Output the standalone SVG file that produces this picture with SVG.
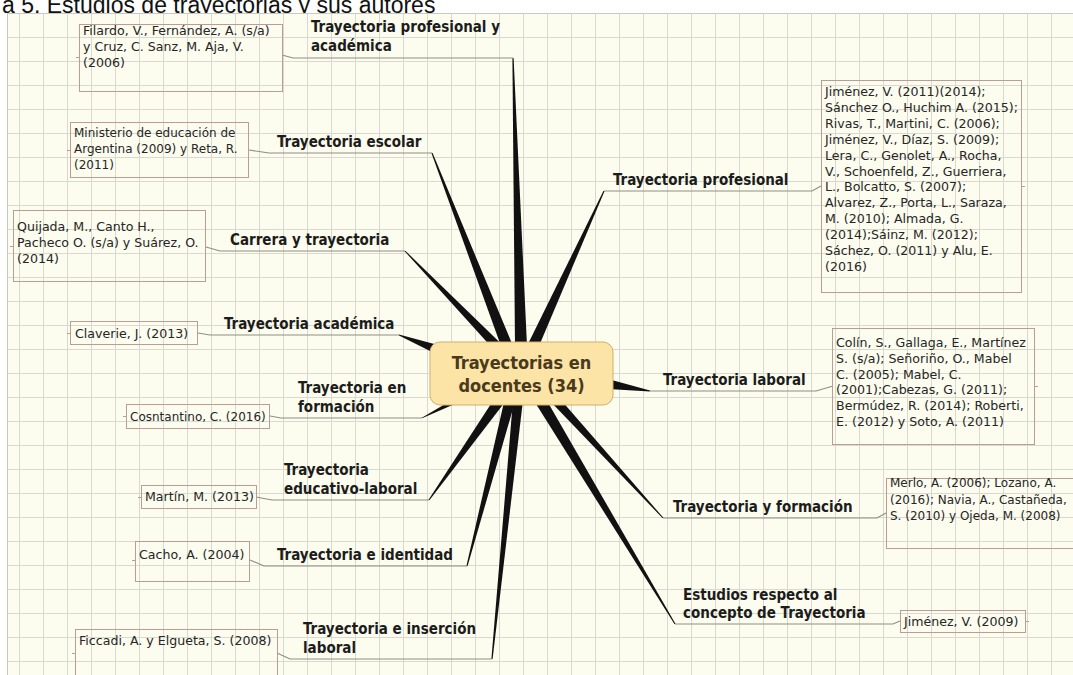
<svg xmlns="http://www.w3.org/2000/svg" width="1073" height="675" viewBox="0 0 1073 675">
  <defs>
    <pattern id="grid" patternUnits="userSpaceOnUse" x="19" y="13" width="24" height="24">
      <path d="M0,0.5 H24 M0.5,0 V24" fill="none" stroke="#d9d9cf" stroke-width="1"/>
    </pattern>
    <style>
      .title { font-family: "Liberation Sans", Arial, sans-serif; font-size: 23px; fill: #111; }
      .ref { font-family: "DejaVu Sans", Verdana, sans-serif; font-size: 12.6px; fill: #262626; }
      .ref.tight { font-size: 12px; }
      .lbl { font-family: "DejaVu Sans Condensed", "DejaVu Sans", sans-serif; font-stretch: condensed; font-weight: bold; font-size: 15px; fill: #1c1c1c; }
      .hub { font-family: "DejaVu Sans Condensed", "DejaVu Sans", sans-serif; font-stretch: condensed; font-weight: bold; font-size: 18px; fill: #4a3a1c; text-anchor: middle; }
      .box { fill: none; stroke: #bb9d96; stroke-width: 1; }
      .tick { stroke: #bb9d96; stroke-width: 1; }
      .ul { fill: none; stroke: #8e8e86; stroke-width: 1.2; }
      .spk { fill: #111; }
    </style>
  </defs>

  <!-- page caption -->
  <rect x="0" y="0" width="1073" height="675" fill="#ffffff"/>
  <text class="title" x="2" y="13">a 5. Estudios de trayectorias y sus autores</text>

  <!-- map canvas with grid -->
  <rect x="7.5" y="13.5" width="1070" height="670" fill="#fcfcef" stroke="#c9c9c0"/>
  <rect x="8" y="14" width="1065" height="661" fill="url(#grid)"/>

  <!-- spokes and branch connectors -->
  <g id="connectors">
    <polygon class="spk" points="512.4,58 513.6,58 527,346 515,346"/>
    <polygon class="spk" points="431.4,153 432.6,153 513,346 501,346"/>
    <polygon class="spk" points="404.4,251 405.6,251 503.5,346 490.5,346"/>
    <polygon class="spk" points="603.4,191 604.6,191 539,346 527,346"/>
    <polygon class="spk" points="399,334.4 399,335.6 438,355 438,345"/>
    <polygon class="spk" points="421.4,418 422.6,418 464,400 452,400"/>
    <polygon class="spk" points="428.4,500 429.6,500 506.5,400 493.5,400"/>
    <polygon class="spk" points="466.4,566 467.6,566 515.5,400 504.5,400"/>
    <polygon class="spk" points="491.4,659 492.6,659 523,400 513,400"/>
    <polygon class="spk" points="650,390.4 650,391.6 608,389 608,379"/>
    <polygon class="spk" points="662.4,518 663.6,518 561,400 549,400"/>
    <polygon class="spk" points="674.4,624 675.6,624 546.5,400 533.5,400"/>

    <path class="ul" d="M282,55 L293,58 L513,58"/>
    <path class="ul" d="M249,150 L269,153 L432,153"/>
    <path class="ul" d="M206,247 L220,251 L405,251"/>
    <path class="ul" d="M198,333 L210,335 L399,335"/>
    <path class="ul" d="M270,416 L281,418 L422,418"/>
    <path class="ul" d="M256,497 L272,500 L429,500"/>
    <path class="ul" d="M250,560 L264,566 L467,566"/>
    <path class="ul" d="M277,653 L290,659 L492,659"/>
    <path class="ul" d="M604,191 L812,191 L821,186"/>
    <path class="ul" d="M650,391 L816,391 L833,386"/>
    <path class="ul" d="M663,518 L877,518 L886,513"/>
    <path class="ul" d="M675,624 L893,624 L900,621"/>
  </g>

  <!-- central topic -->
  <g id="hub">
    <rect x="430" y="342" width="183" height="63" rx="10" fill="#fce3a6" stroke="#d2b06a" stroke-width="1"/>
    <text class="hub" x="521.5" y="369">Trayectorias en</text>
    <text class="hub" x="521.5" y="392">docentes (34)</text>
  </g>

  <!-- left branches -->
  <g id="t-prof-acad">
    <text class="lbl" x="311" y="32">Trayectoria profesional y</text>
    <text class="lbl" x="311" y="51">académica</text>
  </g>
  <g id="r-prof-acad">
    <rect class="box" x="79.5" y="24.5" width="203" height="67"/>
    <line class="tick" x1="76" y1="57.5" x2="79" y2="57.5"/>
    <text class="ref" x="83" y="35">Filardo, V., Fernández, A. (s/a)</text>
    <text class="ref" x="83" y="51">y Cruz, C. Sanz, M. Aja, V.</text>
    <text class="ref" x="83" y="67">(2006)</text>
  </g>

  <g id="t-escolar">
    <text class="lbl" x="277" y="147">Trayectoria escolar</text>
  </g>
  <g id="r-escolar">
    <rect class="box" x="70.5" y="122.5" width="178" height="55"/>
    <line class="tick" x1="67" y1="150.5" x2="70" y2="150.5"/>
    <text class="ref tight" x="74" y="137">Ministerio de educación de</text>
    <text class="ref tight" x="74" y="153">Argentina (2009) y Reta, R.</text>
    <text class="ref tight" x="74" y="169">(2011)</text>
  </g>

  <g id="t-carrera">
    <text class="lbl" x="230" y="245">Carrera y trayectoria</text>
  </g>
  <g id="r-carrera">
    <rect class="box" x="13.5" y="210.5" width="192" height="71"/>
    <line class="tick" x1="10" y1="246.5" x2="13" y2="246.5"/>
    <text class="ref" x="17" y="231">Quijada, M., Canto H.,</text>
    <text class="ref" x="17" y="247">Pacheco O. (s/a) y Suárez, O.</text>
    <text class="ref" x="17" y="263">(2014)</text>
  </g>

  <g id="t-academica">
    <text class="lbl" x="224" y="329">Trayectoria académica</text>
  </g>
  <g id="r-academica">
    <rect class="box" x="70.5" y="321.5" width="127" height="23"/>
    <line class="tick" x1="67" y1="333.5" x2="70" y2="333.5"/>
    <text class="ref" x="75" y="338">Claverie, J. (2013)</text>
  </g>

  <g id="t-formacion">
    <text class="lbl" x="298" y="393">Trayectoria en</text>
    <text class="lbl" x="298" y="412">formación</text>
  </g>
  <g id="r-formacion">
    <rect class="box" x="126.5" y="404.5" width="143" height="24"/>
    <line class="tick" x1="123" y1="416.5" x2="126" y2="416.5"/>
    <text class="ref tight" x="130" y="421">Cosntantino, C. (2016)</text>
  </g>

  <g id="t-educ-lab">
    <text class="lbl" x="284" y="475">Trayectoria</text>
    <text class="lbl" x="284" y="494">educativo-laboral</text>
  </g>
  <g id="r-educ-lab">
    <rect class="box" x="141.5" y="485.5" width="115" height="23"/>
    <line class="tick" x1="138" y1="497.5" x2="141" y2="497.5"/>
    <text class="ref" x="145" y="501">Martín, M. (2013)</text>
  </g>

  <g id="t-identidad">
    <text class="lbl" x="277" y="560">Trayectoria e identidad</text>
  </g>
  <g id="r-identidad">
    <rect class="box" x="135.5" y="541.5" width="114" height="40"/>
    <line class="tick" x1="132" y1="560.5" x2="135" y2="560.5"/>
    <text class="ref" x="139" y="559">Cacho, A. (2004)</text>
  </g>

  <g id="t-insercion">
    <text class="lbl" x="303" y="634">Trayectoria e inserción</text>
    <text class="lbl" x="303" y="653">laboral</text>
  </g>
  <g id="r-insercion">
    <rect class="box" x="75.5" y="629.5" width="202" height="60"/>
    <line class="tick" x1="72" y1="653.5" x2="75" y2="653.5"/>
    <text class="ref" x="79" y="645">Ficcadi, A. y Elgueta, S. (2008)</text>
  </g>

  <!-- right branches -->
  <g id="t-profesional">
    <text class="lbl" x="613" y="185">Trayectoria profesional</text>
  </g>
  <g id="r-profesional">
    <rect class="box" x="821.5" y="80.5" width="200" height="212"/>
    <line class="tick" x1="1022" y1="186.5" x2="1025" y2="186.5"/>
    <text class="ref" x="825" y="96">Jiménez, V. (2011)(2014);</text>
    <text class="ref" x="825" y="111.9">Sánchez O., Huchim A. (2015);</text>
    <text class="ref" x="825" y="127.8">Rivas, T., Martini, C. (2006);</text>
    <text class="ref" x="825" y="143.7">Jiménez, V., Díaz, S. (2009);</text>
    <text class="ref" x="825" y="159.6">Lera, C., Genolet, A., Rocha,</text>
    <text class="ref" x="825" y="175.5">V., Schoenfeld, Z., Guerriera,</text>
    <text class="ref" x="825" y="191.4">L., Bolcatto, S. (2007);</text>
    <text class="ref" x="825" y="207.3">Alvarez, Z., Porta, L., Saraza,</text>
    <text class="ref" x="825" y="223.2">M. (2010); Almada, G.</text>
    <text class="ref" x="825" y="239.1">(2014);Sáinz, M. (2012);</text>
    <text class="ref" x="825" y="255">Sáchez, O. (2011) y Alu, E.</text>
    <text class="ref" x="825" y="270.9">(2016)</text>
  </g>

  <g id="t-laboral">
    <text class="lbl" x="663" y="385">Trayectoria laboral</text>
  </g>
  <g id="r-laboral">
    <rect class="box" x="832.5" y="328.5" width="202" height="116"/>
    <line class="tick" x1="1035" y1="386.5" x2="1038" y2="386.5"/>
    <text class="ref" x="836" y="347">Colín, S., Gallaga, E., Martínez</text>
    <text class="ref" x="836" y="362.8">S. (s/a); Señoriño, O., Mabel</text>
    <text class="ref" x="836" y="378.6">C. (2005); Mabel, C.</text>
    <text class="ref" x="836" y="394.4">(2001);Cabezas, G. (2011);</text>
    <text class="ref" x="836" y="410.2">Bermúdez, R. (2014); Roberti,</text>
    <text class="ref" x="836" y="426">E. (2012) y Soto, A. (2011)</text>
  </g>

  <g id="t-y-formacion">
    <text class="lbl" x="673" y="512">Trayectoria y formación</text>
  </g>
  <g id="r-y-formacion">
    <rect class="box" x="886.5" y="478.5" width="200" height="70"/>
    <text class="ref tight" x="890" y="487">Merlo, A. (2006); Lozano, A.</text>
    <text class="ref tight" x="890" y="503.5">(2016); Navia, A., Castañeda,</text>
    <text class="ref tight" x="890" y="520">S. (2010) y Ojeda, M. (2008)</text>
  </g>

  <g id="t-concepto">
    <text class="lbl" x="683" y="600">Estudios respecto al</text>
    <text class="lbl" x="683" y="618">concepto de Trayectoria</text>
  </g>
  <g id="r-concepto">
    <rect class="box" x="900.5" y="610.5" width="125" height="22"/>
    <line class="tick" x1="1026" y1="621.5" x2="1029" y2="621.5"/>
    <text class="ref" x="904" y="626">Jiménez, V. (2009)</text>
  </g>
</svg>
